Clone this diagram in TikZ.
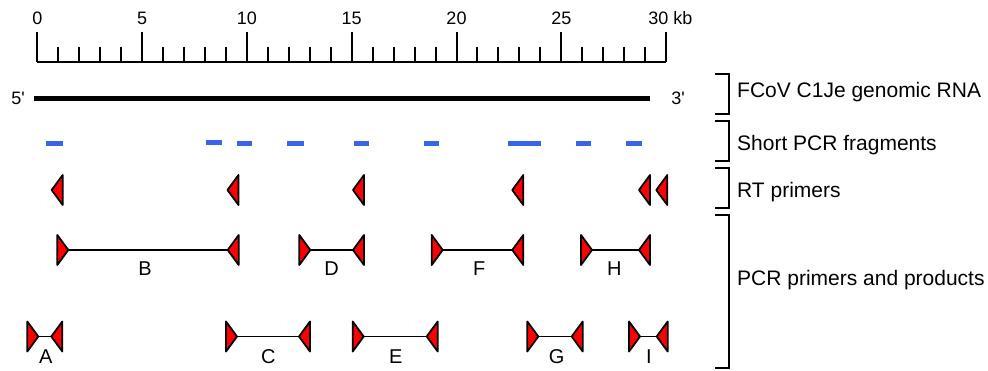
\documentclass[tikz,border=0pt]{standalone}
\usepackage{fontspec}
\setmainfont{Liberation Sans}
\newfontfamily\plainsans{Liberation Sans}
\definecolor{fragblue}{RGB}{55,100,235}
\definecolor{primred}{RGB}{255,0,0}
\tikzset{
  tri/.style={fill=primred, draw=black, line width=1.8pt, line join=round},
  prod/.style={draw=black, line width=1.8pt},
  frag/.style={draw=fragblue, line width=5pt},
  genome/.style={draw=black, line width=5pt},
  scaleline/.style={draw=black, line width=2pt},
  brk/.style={draw=black, line width=1.8pt},
  axlab/.style={font=\fontsize{18}{20}\selectfont, inner sep=0pt},
  prodlab/.style={font=\fontsize{20}{22}\selectfont, inner sep=0pt},
  sidelab/.style={font=\fontsize{21}{24}\selectfont, inner sep=0pt, anchor=west},
}
% forward (right-pointing) primer: base at x, tip at x+11
\newcommand{\fwdtri}[3]{%
  \draw[tri] (#2,#3-15) -- (#2+11,#3) -- (#2,#3+15) -- cycle;
  \coordinate (#1) at (#2+11,#3);}
% reverse (left-pointing) primer: base at x, tip at x-11
\newcommand{\revtri}[3]{%
  \draw[tri] (#2,#3-15) -- (#2-11,#3) -- (#2,#3+15) -- cycle;
  \coordinate (#1) at (#2-11,#3);}
\begin{document}
\begin{tikzpicture}[x=1pt,y=-1pt]
\useasboundingbox (0,0) rectangle (988,371);
% ---------- scale ----------
\draw[scaleline] (37.3,61.7) -- (666,61.7);
\foreach \k in {0,...,30}{
  \pgfmathsetmacro{\xx}{37.3+20.96*\k}
  \pgfmathtruncatemacro{\rr}{mod(\k,5)}
  \ifnum\rr=0
    \draw[scaleline] (\xx,32.3) -- (\xx,61.7);
  \else
    \draw[scaleline] (\xx,46.7) -- (\xx,61.7);
  \fi
}
\foreach \k/\nm in {0/s0,5/s5,10/s10,15/s15,20/s20,25/s25}{
  \pgfmathsetmacro{\xx}{37.3+20.96*\k}
  \node[axlab] (\nm) at (\xx,18) {\k};
}
\node[axlab] (s30) at (670.5,18) {30 kb};
% ---------- genome ----------
\node[axlab] (five) at (18,98.3) {\plainsans 5'};
\node[axlab] (three) at (678,98.3) {\plainsans 3'};
\draw[genome] (34,98.3) -- (650,98.3);
% ---------- short PCR fragments ----------
\foreach \a/\b/\y in {46/62.7/143.3, 205.7/221.7/142.7, 236.7/252.3/143.3, 287.3/304/143.3,
                      354/369.3/143.3, 424/439.3/143.3, 508.3/540.7/143.3, 575.7/591.3/143.3,
                      626.3/642.3/143.3}{
  \draw[frag] (\a,\y) -- (\b,\y);
}
% ---------- RT primers ----------
\revtri{rt1}{62.7}{190}
\revtri{rt2}{238.5}{190}
\revtri{rt3}{364}{190}
\revtri{rt4}{523.3}{190}
\revtri{rt5}{650}{190}
\revtri{rt6}{667.3}{190}
% ---------- PCR primers and products, row 1 ----------
\fwdtri{bf}{57.3}{250}  \revtri{br}{238.7}{250}
\fwdtri{df}{299.3}{250} \revtri{dr}{364}{250}
\fwdtri{ff}{431.7}{250} \revtri{fr}{523.3}{250}
\fwdtri{hf}{581}{250}   \revtri{hr}{650}{250}
\draw[prod] (bf) -- (br);
\draw[prod] (df) -- (dr);
\draw[prod] (ff) -- (fr);
\draw[prod] (hf) -- (hr);
\node[prodlab] (lb) at (145,268.5) {B};
\node[prodlab] (ld) at (331.7,268.5) {D};
\node[prodlab] (lf) at (479.3,268.5) {F};
\node[prodlab] (lh) at (614.3,268.5) {H};
% ---------- row 2 ----------
\fwdtri{af}{27.3}{336.5}  \revtri{ar}{62.3}{336.5}
\fwdtri{cf}{226}{336.5}   \revtri{cr}{310}{336.5}
\fwdtri{ef}{352.7}{336.5} \revtri{er}{437.7}{336.5}
\fwdtri{gf}{527.3}{336.5} \revtri{gr}{582.7}{336.5}
\fwdtri{if}{629}{336.5}   \revtri{ir}{667.7}{336.5}
\draw[prod] (af) -- (ar);
\draw[prod] (cf) -- (cr);
\draw[prod] (ef) -- (er);
\draw[prod] (gf) -- (gr);
\draw[prod] (if) -- (ir);
\node[prodlab] (la) at (45.7,356.7) {A};
\node[prodlab] (lc) at (268.3,356.7) {C};
\node[prodlab] (le) at (395.7,356.7) {E};
\node[prodlab] (lg) at (556.7,356.7) {G};
\node[prodlab] (li) at (649,356.7) {I};
% ---------- brackets ----------
\foreach \t/\b in {74/114, 121/161, 168.3/207.7, 215/368.3}{
  \draw[brk] (715,\t) -- (729.3,\t) -- (729.3,\b) -- (715,\b);
}
\node[sidelab] (t1) at (737,92.3) {FCoV C1Je genomic RNA};
\node[sidelab] (t2) at (737,145) {Short PCR fragments};
\node[sidelab] (t3) at (737,191.7) {RT primers};
\node[sidelab] (t4) at (737,280) {PCR primers and products};
\end{tikzpicture}
\end{document}
